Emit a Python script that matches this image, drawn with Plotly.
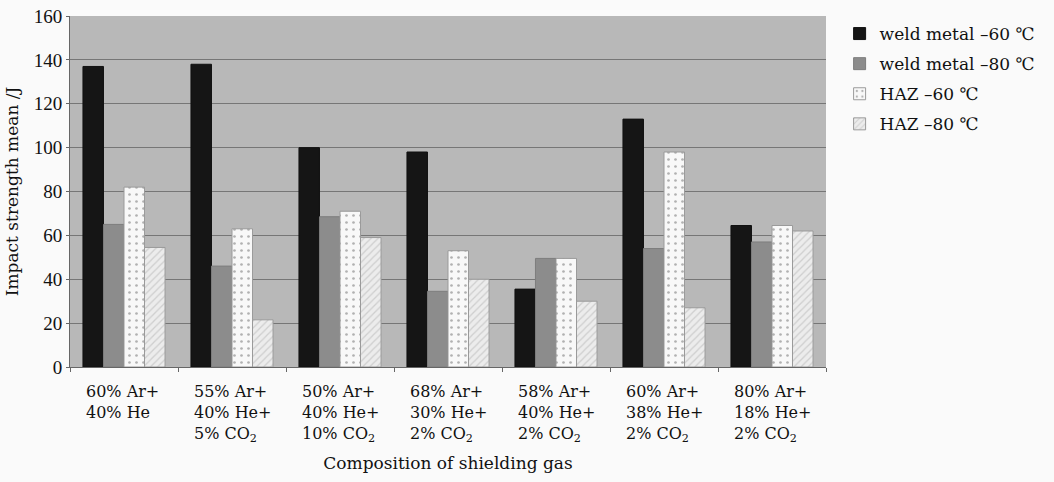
import plotly.graph_objects as go

categories = [
    "60% Ar+<br>40% He",
    "55% Ar+<br>40% He+<br>5% CO<sub>2</sub>",
    "50% Ar+<br>40% He+<br>10% CO<sub>2</sub>",
    "68% Ar+<br>30% He+<br>2% CO<sub>2</sub>",
    "58% Ar+<br>40% He+<br>2% CO<sub>2</sub>",
    "60% Ar+<br>38% He+<br>2% CO<sub>2</sub>",
    "80% Ar+<br>18% He+<br>2% CO<sub>2</sub>",
]
cat_keys = ["g1", "g2", "g3", "g4", "g5", "g6", "g7"]
weld_60 = [137, 138, 100, 98, 35.5, 113, 64.5]
weld_80 = [65, 46, 68.5, 34.5, 49.5, 54, 57]
haz_60 = [82, 63, 71, 53, 49.5, 98, 64.5]
haz_80 = [54.5, 21.5, 59, 40, 30, 27, 62]
y_ticks = [0, 20, 40, 60, 80, 100, 120, 140, 160]

FONT = "DejaVu Serif"
TICKFONT = "Liberation Serif"

fig = go.Figure()
fig.add_bar(x=cat_keys, y=weld_60, name="weld metal \u201360 \u2103", legendgroup="a",
            marker=dict(color="#151515", line=dict(color="#111", width=1)))
fig.add_bar(x=cat_keys, y=weld_80, name="weld metal \u201380 \u2103", legendgroup="b",
            marker=dict(color="#8c8c8c", line=dict(color="#7d7d7d", width=1)))
fig.add_bar(x=cat_keys, y=haz_60, name="HAZ \u201360 \u2103", legendgroup="c",
            marker=dict(color="#f8f8f8", line=dict(color="#9a9a9a", width=1),
                        pattern=dict(shape=".", fgcolor="#6a6a6a", bgcolor="#f8f8f8",
                                     size=7, solidity=0.12)))
fig.add_bar(x=cat_keys, y=haz_80, name="HAZ \u201380 \u2103", legendgroup="d",
            marker=dict(color="#ececec", line=dict(color="#9a9a9a", width=1),
                        pattern=dict(shape="/", fgcolor="#b0b0b0", bgcolor="#ececec",
                                     size=5, solidity=0.25)))

for key, lab in zip(cat_keys, categories):
    fig.add_annotation(x=key, y=0, xref="x", yref="paper", text=lab,
                       showarrow=False, xanchor="left", yanchor="top",
                       align="left", xshift=-40, yshift=-13,
                       font=dict(family=FONT, size=16, color="#111"))

fig.update_layout(
    width=1054, height=482,
    margin=dict(l=70, r=228, t=16, b=115),
    paper_bgcolor="#fafafa",
    plot_bgcolor="#b8b8b8",
    barmode="group",
    bargap=0.24,
    bargroupgap=0.0,
    font=dict(family=FONT, size=17, color="#111"),
    showlegend=True,
    legend=dict(x=1.018, y=1.0, xanchor="left", yanchor="top",
                font=dict(family=FONT, size=17, color="#111"),
                bgcolor="rgba(0,0,0,0)", tracegroupgap=5, itemwidth=30),
    xaxis=dict(type="category", showticklabels=False, tickson="boundaries",
               ticks="outside", ticklen=4, tickcolor="#666",
               showline=True, linecolor="#666", linewidth=1,
               showgrid=False, automargin=False,
               title=dict(text="Composition of shielding gas", standoff=90,
                          font=dict(family=FONT, size=17))),
    yaxis=dict(range=[0, 160], tickvals=y_ticks, showgrid=True,
               gridcolor="#767676", gridwidth=1, zeroline=False,
               showline=True, linecolor="#666", linewidth=1, automargin=False,
               ticks="outside", ticklen=3, tickcolor="#666",
               tickfont=dict(family=TICKFONT, size=19),
               title=dict(text="Impact strength mean /J", standoff=10,
                          font=dict(family=FONT, size=17))),
)

fig.write_html("out.html", post_script="document.body.style.margin='0';",
               config={"displayModeBar": False})
